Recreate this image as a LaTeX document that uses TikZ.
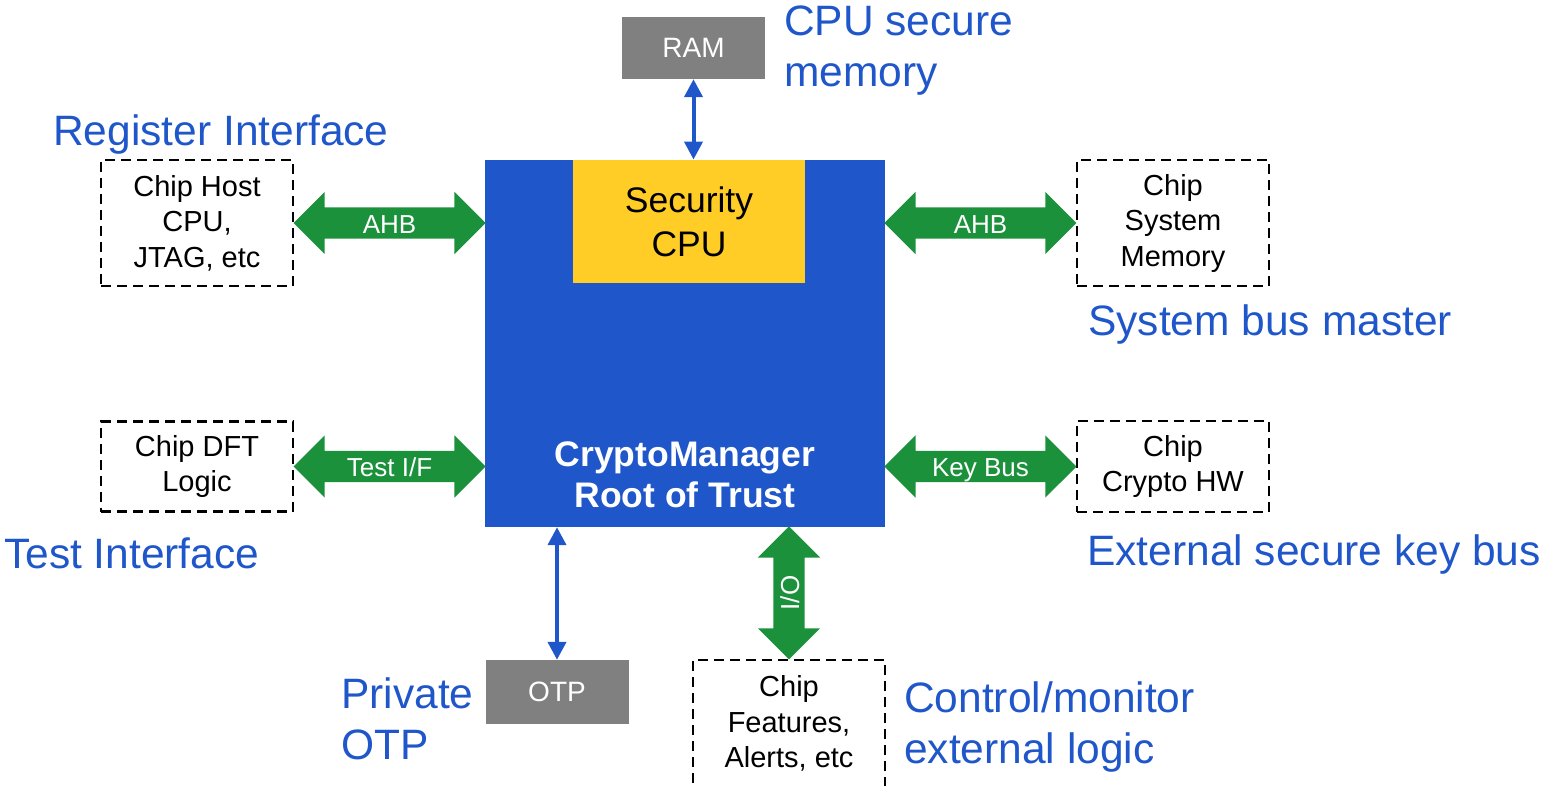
\documentclass[tikz,border=0pt]{standalone}
\usepackage{fontspec}
\setmainfont{Liberation Sans}
\usetikzlibrary{positioning,calc,shapes.arrows,arrows.meta}

\definecolor{rotblue}{RGB}{31,87,202}
\definecolor{cpuyellow}{RGB}{255,205,38}
\definecolor{memgray}{RGB}{128,128,128}
\definecolor{busgreen}{RGB}{27,145,60}

\begin{document}
\begin{tikzpicture}[x=1pt,y=-1pt,
			ext node/.style={draw,line width=2.5pt,dash pattern=on 10pt off 6pt,minimum width=192pt,inner sep=0pt,align=center,font=\fontsize{29}{35.5}\selectfont},
			mem node/.style={fill=memgray,text=white,minimum width=143pt,inner sep=0pt,font=\fontsize{28}{34}\selectfont},
			bus node/.style={double arrow,fill=busgreen,text=white,minimum height=192pt,minimum width=62pt,double arrow head extend=15.5pt,inner xsep=0pt,inner ysep=4.5pt,text height=21pt,text depth=1pt,font=\fontsize{26}{30}\selectfont},
			link/.style={{Triangle[width=18pt,length=18pt]}-{Triangle[width=18pt,length=18pt]},line width=4pt,rotblue},
			tag/.style={anchor=north west,inner sep=0pt,align=left,text=rotblue,font=\fontsize{42.5}{51}\selectfont}
			]
			
			\useasboundingbox (0,0) rectangle (1541,785);
			
			% root of trust with security cpu
			\node[fill=rotblue,minimum width=400pt,minimum height=367pt,inner sep=0pt] (rot) at (685,343.5) {};
			\node[fill=cpuyellow,minimum width=232pt,minimum height=123.5pt,inner sep=0pt,align=center,font=\fontsize{35.5}{44}\selectfont] (cpu) at (689,221.5) {Security\\CPU};
			\node[anchor=north,inner sep=0pt,text=white,align=center,font=\bfseries\fontsize{35.5}{41}\selectfont] (rotlabel) at (685,442) {CryptoManager\\Root of Trust};
			
			\node[mem node,minimum height=62pt] (ram) at (693.5,48) {RAM};
			\node[mem node,minimum height=64pt] (otp) at (557,692) {OTP};
			
			\node[ext node,minimum height=126pt] (host) at (197,223) {Chip Host\\CPU,\\JTAG, etc};
			\node[ext node,minimum height=126pt] (sysmem) at (1173,223) {Chip\\System\\Memory};
			\node[ext node,minimum height=90pt] (dft) at (197,466.5) {Chip DFT\\Logic};
			\node[ext node,minimum height=91pt] (crypto) at (1173,466.5) {Chip\\Crypto HW};
			\node[ext node,minimum height=127pt] (feat) at (789,723.5) {Chip\\Features,\\Alerts, etc};
			
			% buses
			\node[bus node] (hostbus) at ($(host.east)!.5!(host.east -| rot.west)$) {AHB};
			\node[bus node] (membus) at ($(sysmem.west)!.5!(sysmem.west -| rot.east)$) {AHB};
			\node[bus node] (testbus) at ($(dft.east)!.5!(dft.east -| rot.west)$) {Test I/F};
			\node[bus node] (keybus) at ($(crypto.west)!.5!(crypto.west -| rot.east)$) {Key Bus};
			\node[bus node,minimum height=133pt,rotate=90] (iobus) at ($(feat.north)!.5!(feat.north |- rot.south)$) {I/O};
			
			\draw[link] (ram.south) -- (ram.south |- cpu.north);
			\draw[link] (otp.north) -- (otp.north |- rot.south);
			
			% blue tags
			\node[tag] (ramtag) at (784,6) {CPU secure\\memory};
			\node[tag] (hosttag) at (53,114) {Register Interface};
			\node[tag] (memtag) at (1088,304) {System bus master};
			\node[tag] (dfttag) at (4,538) {Test Interface};
			\node[tag] (keytag) at (1087,534) {External secure key bus};
			\node[tag] (otptag) at (341,677) {Private\\OTP};
			\node[tag] (feattag) at (904,681) {Control/monitor\\external logic};
			
\end{tikzpicture}
\end{document}
